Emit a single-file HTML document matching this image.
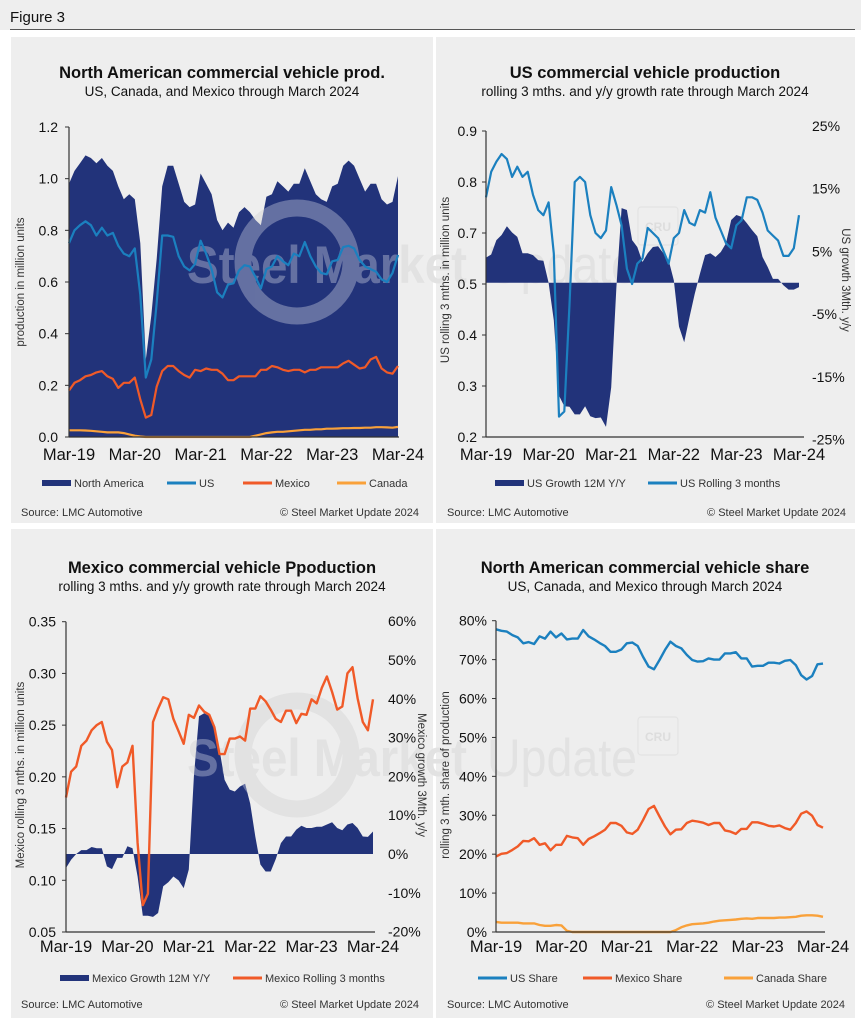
<!DOCTYPE html>
<html><head><meta charset="utf-8"><title>Figure 3</title>
<style>
html,body{margin:0;padding:0;background:#fff;}
svg{display:block;font-family:"Liberation Sans",Arial,sans-serif;}
</style></head>
<body>
<svg id="fig" width="861" height="1024" viewBox="0 0 861 1024" xmlns="http://www.w3.org/2000/svg">
<rect x="0" y="0" width="861" height="1024" fill="#ffffff"/>
<rect x="0" y="0" width="861" height="30" fill="#eeeeee"/>
<text x="10" y="22" font-size="15" fill="#111">Figure 3</text>
<line x1="10" y1="29.5" x2="855" y2="29.5" stroke="#555" stroke-width="1"/>
<rect x="11" y="37" width="422" height="486" fill="#eeeeee"/>
<rect x="436" y="37" width="419" height="486" fill="#eeeeee"/>
<rect x="11" y="529" width="422" height="489" fill="#eeeeee"/>
<rect x="436" y="529" width="419" height="489" fill="#eeeeee"/>
<g id="layer"></g>
</svg>
<script>
// ---------- data (Mar-19 .. Mar-24, monthly) ----------
const xTickLabels = ["Mar-19","Mar-20","Mar-21","Mar-22","Mar-23","Mar-24"];
// Panel 1: production in million units
const naProd = [0.98,1.03,1.06,1.09,1.08,1.06,1.08,1.05,1.03,0.97,0.92,0.94,0.92,0.75,0.30,0.47,0.69,0.97,1.05,1.05,0.98,0.91,0.89,0.90,1.02,0.98,0.94,0.84,0.80,0.83,0.81,0.87,0.89,0.87,0.84,0.82,0.93,0.94,0.99,0.97,0.95,0.98,0.98,1.04,0.99,0.94,0.92,0.91,0.97,0.98,1.05,1.07,1.05,1.00,0.95,0.98,0.98,0.92,0.90,0.91,1.01];
const usProd = [0.75,0.80,0.82,0.835,0.82,0.78,0.81,0.78,0.79,0.74,0.71,0.70,0.73,0.55,0.23,0.30,0.52,0.78,0.78,0.775,0.70,0.66,0.645,0.67,0.76,0.71,0.65,0.56,0.54,0.59,0.595,0.645,0.665,0.66,0.62,0.575,0.65,0.66,0.70,0.68,0.665,0.71,0.70,0.755,0.70,0.66,0.635,0.63,0.68,0.685,0.735,0.74,0.73,0.685,0.66,0.65,0.64,0.61,0.60,0.635,0.705];
const mxProd = [0.18,0.21,0.22,0.235,0.24,0.25,0.255,0.235,0.225,0.19,0.21,0.21,0.23,0.145,0.075,0.085,0.195,0.255,0.275,0.275,0.255,0.24,0.23,0.26,0.255,0.265,0.26,0.26,0.245,0.22,0.22,0.235,0.235,0.235,0.235,0.26,0.26,0.275,0.27,0.26,0.255,0.26,0.26,0.25,0.26,0.26,0.27,0.27,0.27,0.27,0.285,0.295,0.28,0.265,0.27,0.30,0.31,0.265,0.25,0.245,0.275];
const caProd = [0.026,0.026,0.026,0.025,0.024,0.022,0.020,0.018,0.018,0.018,0.015,0.010,0.005,0.002,0,0,0,0,0,0,0,0,0,0,0,0,0,0,0,0,0,0,0,0,0.005,0.010,0.015,0.018,0.020,0.020,0.022,0.024,0.026,0.028,0.028,0.030,0.030,0.032,0.032,0.033,0.034,0.034,0.035,0.035,0.036,0.036,0.038,0.038,0.037,0.036,0.039];
const p1Ticks = [0,0.2,0.4,0.6,0.8,1.0,1.2];
// Panel 2: US
const usRolling = [0.77,0.82,0.84,0.855,0.845,0.81,0.83,0.81,0.82,0.775,0.745,0.735,0.76,0.66,0.34,0.35,0.56,0.80,0.81,0.80,0.735,0.70,0.69,0.705,0.79,0.755,0.715,0.63,0.60,0.64,0.65,0.71,0.70,0.69,0.665,0.64,0.69,0.70,0.745,0.72,0.715,0.745,0.74,0.78,0.73,0.705,0.68,0.67,0.715,0.725,0.77,0.77,0.765,0.74,0.705,0.695,0.685,0.655,0.655,0.67,0.735];
const usGrowth = [4,4.5,6.8,7.6,9,8,7.3,4.7,4.7,4.4,3.6,3.5,0,-6,-18,-19.7,-19.8,-21,-21,-19.7,-21.3,-21.6,-21.5,-23,-16.7,-0.7,11.9,11.6,6.8,5.7,3.3,4.7,5.7,5.8,4.7,3.6,0.4,-7,-9.5,-5.5,-1.8,1.4,4.4,4.7,4.1,4.9,6.3,10,10.8,10.5,9.5,8.4,7.4,4.1,2.5,0.6,0.6,-0.4,-1.1,-1.1,-0.7];
// left axis in the source skips "0.6": evenly spaced ticks carry these labels
const p2LeftTicks = [0.9,0.8,0.7,0.6,0.5,0.4,0.3];
const p2LeftLabels = ["0.9","0.8","0.7","0.5","0.4","0.3","0.2"];
const p2RightTicks = [-25,-15,-5,5,15,25];
// Panel 3: Mexico
const mxRolling = [0.18,0.205,0.21,0.23,0.235,0.245,0.25,0.253,0.234,0.226,0.19,0.21,0.214,0.23,0.136,0.076,0.087,0.253,0.266,0.277,0.275,0.256,0.244,0.232,0.26,0.257,0.269,0.263,0.26,0.248,0.222,0.222,0.237,0.237,0.239,0.235,0.266,0.266,0.278,0.273,0.265,0.256,0.253,0.264,0.264,0.252,0.261,0.26,0.275,0.271,0.286,0.297,0.282,0.265,0.268,0.30,0.306,0.276,0.253,0.245,0.275];
const mxGrowth = [-3.6,-1.5,0,1,1,1.8,1.5,1.5,-3.2,-3.9,-1,-1,2,1.5,-5.8,-15.9,-15.9,-16.2,-15.2,-8.3,-7.3,-5.8,-6.8,-8.8,-4,20,35.5,36.3,35.6,32.9,26.9,19.1,16.6,16.1,17.4,18.1,13,4.5,-2.7,-4.5,-4.5,-1.3,2.8,4.5,4.5,6.3,7.3,6.7,6.7,7,7,7.6,8.2,6.7,6.1,7.6,8,6.7,4.5,4.4,5.8];
const p3LeftTicks = [0.05,0.10,0.15,0.20,0.25,0.30,0.35];
const p3LeftLabels = ["0.05","0.10","0.15","0.20","0.25","0.30","0.35"];
const p3RightTicks = [-20,-10,0,10,20,30,40,50,60];
// Panel 4: share %
const usShare = [77.8,77.4,77.2,76.3,75.7,74.2,74.5,74,76,75.4,77.2,75.7,76.7,75.2,75.4,75.4,77.6,76,75.2,74.3,73.5,72,72,72.6,74.2,74.4,73.5,70.7,68.2,67.5,69.9,72.5,74.6,73.5,72.9,71.2,69.9,69.5,69.6,70.3,70,70,71.6,71.6,71.9,70.3,70.3,68.2,68.4,68.4,69.2,69.2,69,69.7,69.9,68.6,66,64.9,65.8,68.8,69];
const mxShare = [19.4,20.1,20.3,21.1,22,23.4,23.3,24.1,22.4,22.8,21,22.4,22.4,24.7,24.3,24.1,22.4,23.9,24.6,25.4,26.3,28,28,27.3,25.6,25.2,26.3,28.8,31.6,32.4,29.7,27.1,25.1,26.3,26.4,28,28.6,28.4,28.1,27.5,28,28,26.1,25.8,25.2,26.5,26.5,28.2,28.2,27.8,27.3,27.1,27.4,26.7,26.3,28,30.4,31,29.9,27.5,26.8];
const caShare = [2.6,2.4,2.4,2.4,2.4,2.2,2.2,2.2,1.8,1.6,1.6,1.8,1.7,0.3,0,0,0,0,0,0,0,0,0,0,0,0,0,0,0,0,0,0,0,0.5,1.2,1.7,2.0,2.1,2.2,2.4,2.7,2.9,3,3.1,3.2,3.4,3.5,3.4,3.6,3.6,3.6,3.6,3.7,3.7,3.8,3.9,4.2,4.3,4.3,4.2,3.9];
const p4Ticks = [0,10,20,30,40,50,60,70,80];

// ---------- drawing ----------
const NS = "http://www.w3.org/2000/svg";
const layer = document.getElementById("layer");
const NAVY = "#22337a", BLUE = "#1b80bf", RED = "#f05a28", ORANGE = "#f9a13a";
function mk(tag, attrs, parent) {
  const e = document.createElementNS(NS, tag);
  for (const k in attrs) e.setAttribute(k, attrs[k]);
  (parent || layer).appendChild(e);
  return e;
}
function txt(s, x, y, size, anchor, fill, weight, parent) {
  const t = mk("text", {x: x, y: y, "font-size": size, "text-anchor": anchor || "start", fill: fill || "#111"}, parent);
  if (weight) t.setAttribute("font-weight", weight);
  t.textContent = s;
  return t;
}
function xs(p, i, n) { return p.x0 + (p.x1 - p.x0) * i / (n - 1); }
function linePath(p, vals, ys) {
  return vals.map((v, i) => (i ? "L" : "M") + xs(p, i, vals.length).toFixed(1) + "," + ys(v).toFixed(1)).join("");
}
function areaPath(p, vals, ys, base) {
  const n = vals.length;
  let d = "M" + xs(p, 0, n).toFixed(1) + "," + ys(base).toFixed(1);
  vals.forEach((v, i) => { d += "L" + xs(p, i, n).toFixed(1) + "," + ys(v).toFixed(1); });
  d += "L" + xs(p, n - 1, n).toFixed(1) + "," + ys(base).toFixed(1) + "Z";
  return d;
}
function xAxis(p, yBase, axisRight, labelY) {
  const ax = mk("line", {x1: p.x0, y1: yBase, x2: axisRight, y2: yBase, stroke: "#333", "stroke-width": 1.2});
  
  
  xTickLabels.forEach((s, k) => {
    const x = p.x0 + (p.x1 - p.x0) * k / (xTickLabels.length - 1);
    const t = txt(s, x, labelY, 16.5, "middle", "#111");
    
    
  });
}
function leftAxis(p, ys, ticks, labels, lx) {
  const lo = Math.max(ys(ticks[0]), ys(ticks[ticks.length - 1]));
  const hi = Math.min(ys(ticks[0]), ys(ticks[ticks.length - 1]));
  const ax = mk("line", {x1: p.x0, y1: lo, x2: p.x0, y2: hi, stroke: "#333", "stroke-width": 1.2});
  
  
  ticks.forEach((v, k) => {
    const tk = mk("line", {x1: p.x0 - 4, y1: ys(v), x2: p.x0, y2: ys(v), stroke: "#333", "stroke-width": 1});
    
    
    const t = txt(labels[k], lx, ys(v) + 5, 14, "end", "#111");
    
    
  });
}
function rightLabels(ys, ticks, lx) {
  ticks.forEach(v => {
    const t = txt(v + "%", lx, ys(v) + 5, 14, "start", "#111");
    
    
  });
}
function rotTitle(s, x, y, angle, size) {
  const t = mk("text", {x: 0, y: 0, "font-size": size || 12, "text-anchor": "middle", fill: "#333", transform: "translate(" + x + "," + y + ") rotate(" + angle + ")"});
  t.textContent = s;
  return t;
}
function legendEntry(x, y, color, thick, label, name) {
  const g = mk("g", {});
  
  
  mk("line", {x1: x, y1: y, x2: x + 29, y2: y, stroke: color, "stroke-width": thick}, g);
  txt(label, x + 32, y + 4, 11, "start", "#333", null, g);
}
function titles(cx, y, title, sub) {
  const t = txt(title, cx, y, 16.5, "middle", "#111", "bold");
  
  
  const s = txt(sub, cx, y + 18, 13.5, "middle", "#111");
  
  
}
function footer(lx, rx, y) {
  const a = txt("Source: LMC Automotive", lx, y, 11, "start", "#333");
  
  
  const b = txt("\u00a9 Steel Market Update 2024", rx, y, 11, "end", "#333");
  
  
}
// watermark spanning left & right panels (baseline y)
function watermark(y, fill, op, clip) {
  const g = mk("g", {opacity: op});
  if (clip) g.setAttribute("clip-path", "url(#" + clip + ")");
  
  
  mk("circle", {cx: 297, cy: y - 21, r: 54, fill: "none", stroke: fill, "stroke-width": 17}, g);
  const t = mk("text", {x: 187, y: y, "font-size": 53, fill: fill, "font-weight": "bold", textLength: 280, lengthAdjust: "spacingAndGlyphs"}, g);
  t.textContent = "Steel Market";
  const u = mk("text", {x: 487, y: y, "font-size": 53, fill: fill, textLength: 150, lengthAdjust: "spacingAndGlyphs"}, g);
  u.textContent = "Update";
}
function cruBox(x, y) {
  const r = mk("rect", {x: x, y: y, width: 40, height: 38, rx: 3, fill: "none", stroke: "#e3e3e3", "stroke-width": 1.2});
  
  
  const t = txt("CRU", x + 20, y + 24, 12, "middle", "#dddddd", "bold");
  
  
}
const defs = mk("defs", {});
[["ctop",11,37,844,486],["cbot",11,529,844,489]].forEach(c => {
  const cp = mk("clipPath", {id: c[0]}, defs);
  mk("rect", {x: c[1], y: c[2], width: c[3], height: c[4]}, cp);
});

// background watermarks
watermark(283, "#e2e2e2", 1, "ctop");
watermark(776, "#e2e2e2", 1, "cbot");
cruBox(638, 207);
cruBox(638, 717);

// ===== Panel 1 =====
(function () {
  const p = {x0: 69, x1: 398};
  const ys = v => 437 - v * (310 / 1.2);
  titles(222, 78, "North American commercial vehicle prod.", "US, Canada, and Mexico through March 2024");
  const dA = areaPath(p, naProd, ys, 0);
  const area = mk("path", {d: dA, fill: NAVY});
  
  
  const cp = mk("clipPath", {id: "cna"}, defs);
  mk("path", {d: dA}, cp);
  watermark(283, "#ffffff", 0.3, "cna");
  const l1 = mk("path", {d: linePath(p, usProd, ys), fill: "none", stroke: BLUE, "stroke-width": 2.2, "stroke-linejoin": "round"});
  
  
  const l2 = mk("path", {d: linePath(p, mxProd, ys), fill: "none", stroke: RED, "stroke-width": 2.2, "stroke-linejoin": "round"});
  
  
  const l3 = mk("path", {d: linePath(p, caProd, ys), fill: "none", stroke: ORANGE, "stroke-width": 2.2, "stroke-linejoin": "round"});
  
  
  leftAxis(p, ys, p1Ticks, p1Ticks.map(v => v.toFixed(1)), 58);
  xAxis(p, 437, 399, 460);
  const yt = rotTitle("production in million units", 24, 282, -90, 11.5);
  
  
  legendEntry(42, 483, NAVY, 6, "North America", "legend-north-america");
  legendEntry(167, 483, BLUE, 3, "US", "legend-us");
  legendEntry(243, 483, RED, 3, "Mexico", "legend-mexico");
  legendEntry(337, 483, ORANGE, 3, "Canada", "legend-canada");
  footer(21, 419, 516);
})();

// ===== Panel 2 =====
(function () {
  const p = {x0: 486, x1: 799};
  const ysL = v => 131 + (0.9 - v) * 510;
  const ysR = v => 282.7 - v * 6.27;
  titles(645, 78, "US commercial vehicle production", "rolling 3 mths. and y/y growth rate through March 2024");
  const area = mk("path", {d: areaPath(p, usGrowth, ysR, 0), fill: NAVY});
  
  
  const l = mk("path", {d: linePath(p, usRolling, ysL), fill: "none", stroke: BLUE, "stroke-width": 2.2, "stroke-linejoin": "round"});
  
  
  leftAxis(p, ysL, p2LeftTicks, p2LeftLabels, 477);
  rightLabels(ysR, p2RightTicks, 812);
  xAxis(p, 437, 804, 460);
  const yt = rotTitle("US rolling 3 mths. in million units", 449, 280, -90, 11.5);
  
  
  const y2 = rotTitle("US growth 3Mth. y/y", 842, 280, 90, 11.5);
  
  
  legendEntry(495, 483, NAVY, 6, "US Growth 12M Y/Y", "legend-us-growth");
  legendEntry(648, 483, BLUE, 3, "US Rolling 3 months", "legend-us-rolling");
  footer(447, 846, 516);
})();

// ===== Panel 3 =====
(function () {
  const p = {x0: 66, x1: 373};
  const ysL = v => 932 - (v - 0.05) * (310.3 / 0.30);
  const ysR = v => 854 - v * 3.88;
  titles(222, 573, "Mexico commercial vehicle Ppoduction", "rolling 3 mths. and y/y growth rate through March 2024");
  const dA = areaPath(p, mxGrowth, ysR, 0);
  const area = mk("path", {d: dA, fill: NAVY});
  
  
  const cp = mk("clipPath", {id: "cmx"}, defs);
  mk("path", {d: dA}, cp);
  watermark(776, "#ffffff", 0.3, "cmx");
  const l = mk("path", {d: linePath(p, mxRolling, ysL), fill: "none", stroke: RED, "stroke-width": 2.4, "stroke-linejoin": "round"});
  
  
  leftAxis(p, ysL, p3LeftTicks, p3LeftLabels, 56);
  rightLabels(ysR, p3RightTicks, 388);
  xAxis(p, 932, 375, 952);
  const yt = rotTitle("Mexico rolling 3 mths. in million units", 24, 775, -90, 11.5);
  
  
  const y2 = rotTitle("Mexico growth 3Mth. y/y", 418, 775, 90, 11.5);
  
  
  legendEntry(60, 978, NAVY, 6, "Mexico Growth 12M Y/Y", "legend-mexico-growth");
  legendEntry(233, 978, RED, 3, "Mexico Rolling 3 months", "legend-mexico-rolling");
  footer(21, 419, 1008);
})();

// ===== Panel 4 =====
(function () {
  const p = {x0: 496, x1: 823};
  const ys = v => 932 - v * (311.3 / 80);
  titles(645, 573, "North American commercial vehicle share", "US, Canada, and Mexico through March 2024");
  [[usShare, BLUE, "us-share-line"], [mxShare, RED, "mexico-share-line"], [caShare, ORANGE, "canada-share-line"]].forEach(s => {
    const l = mk("path", {d: linePath(p, s[0], ys), fill: "none", stroke: s[1], "stroke-width": 2.4, "stroke-linejoin": "round"});
    
    
  });
  leftAxis(p, ys, p4Ticks, p4Ticks.map(v => v + "%"), 487);
  xAxis(p, 932, 825, 952);
  const yt = rotTitle("rolling 3 mth. share of production", 449, 775, -90, 11.5);
  
  
  legendEntry(478, 978, BLUE, 3, "US Share", "legend-us-share");
  legendEntry(583, 978, RED, 3, "Mexico Share", "legend-mexico-share");
  legendEntry(724, 978, ORANGE, 3, "Canada Share", "legend-canada-share");
  footer(447, 845, 1008);
})();
</script>
</body></html>
